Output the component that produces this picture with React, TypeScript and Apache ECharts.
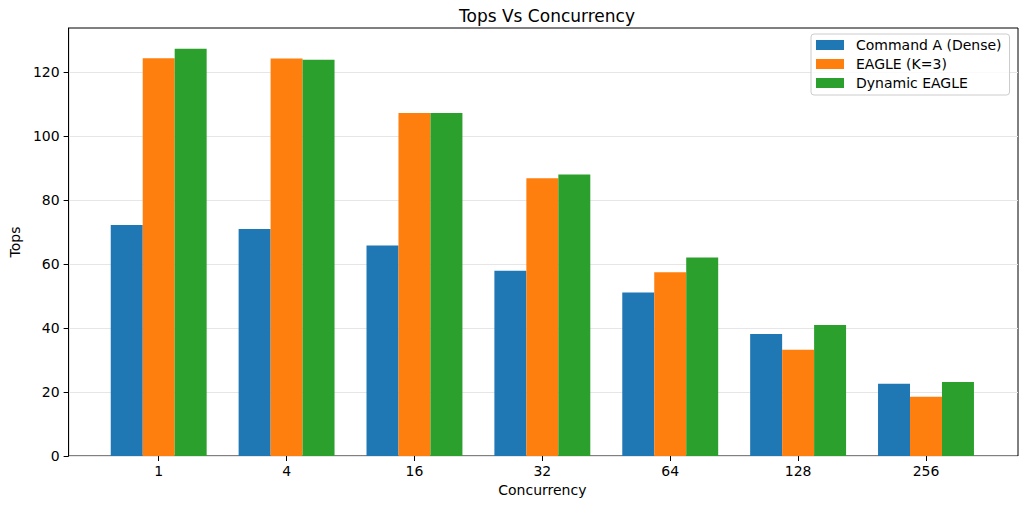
import React, { useEffect, useRef } from "react";
import * as echarts from "echarts";

// Concurrency levels on the x axis
const categories = ["1", "4", "16", "32", "64", "128", "256"];

// Throughput (Tops) per concurrency level
const denseValues = [72.2, 70.9, 65.8, 57.9, 51.1, 38.1, 22.6];
const eagleValues = [124.3, 124.2, 107.2, 86.8, 57.4, 33.2, 18.5];
const dynamicValues = [127.3, 123.8, 107.2, 88.0, 62.0, 40.9, 23.1];

const seriesNames = ["Command A (Dense)", "EAGLE (K=3)", "Dynamic EAGLE"];
const seriesColors = ["#1f77b4", "#ff7f0e", "#2ca02c"];

const yTicks = [0, 20, 40, 60, 80, 100, 120];
const yMax = 133.75;

const FONT = "DejaVu Sans, sans-serif";

export default function App() {
  const ref = useRef<HTMLDivElement>(null);

  useEffect(() => {
    if (!ref.current) return;
    const chart = echarts.init(ref.current, null, { renderer: "svg" });

    const seriesData = [denseValues, eagleValues, dynamicValues];

    chart.setOption({
      animation: false,
      backgroundColor: "#ffffff",
      textStyle: { fontFamily: FONT },
      title: {
        text: "Tops Vs Concurrency",
        left: 542,
        textAlign: "center",
        top: 2,
        textStyle: { fontFamily: FONT, fontSize: 17, fontWeight: "normal", color: "#000" },
      },
      legend: {
        orient: "vertical",
        left: 811,
        top: 34,
        padding: [4, 8, 5, 5],
        itemGap: 5,
        itemWidth: 28,
        itemHeight: 10,
        icon: "rect",
        backgroundColor: "rgba(255,255,255,0.8)",
        borderColor: "#cccccc",
        borderWidth: 1,
        borderRadius: 3,
        data: seriesNames,
        textStyle: { fontFamily: FONT, fontSize: 14, color: "#000", padding: [0, 0, 0, 7] },
      },
      grid: [
        // outer frame holding the value axis and gridlines
        {
          left: 67,
          right: 10,
          top: 28,
          bottom: 50,
          show: true,
          borderColor: "#000",
          borderWidth: 1,
          backgroundColor: "transparent",
        },
        // inner band area for the grouped bars
        { left: 94.76, right: 38.06, top: 28, bottom: 50 },
      ],
      xAxis: [
        { gridIndex: 0, type: "value", min: 0, max: 1, show: false },
        {
          gridIndex: 1,
          type: "category",
          data: categories,
          axisLine: { show: false },
          axisTick: {
            show: true,
            alignWithLabel: true,
            length: 5,
            lineStyle: { color: "#000", width: 1 },
          },
          axisLabel: { fontFamily: FONT, fontSize: 14, color: "#000", margin: 8 },
          name: "Concurrency",
          nameLocation: "middle",
          nameGap: 27,
          nameTextStyle: { fontFamily: FONT, fontSize: 14, color: "#000" },
        },
      ],
      yAxis: [
        {
          gridIndex: 0,
          type: "value",
          min: 0,
          max: yMax,
          interval: 20,
          axisLine: { show: true, lineStyle: { color: "#000", width: 1 } },
          axisTick: {
            show: true,
            length: 5,
            customValues: yTicks,
            lineStyle: { color: "#000", width: 1 },
          },
          axisLabel: {
            fontFamily: FONT,
            fontSize: 14,
            color: "#000",
            margin: 9,
            customValues: yTicks,
          },
          splitLine: { show: true, lineStyle: { color: "#e6e6e6", width: 1 } },
          name: "Tops",
          nameLocation: "middle",
          nameGap: 44,
          nameTextStyle: { fontFamily: FONT, fontSize: 14, color: "#000" },
        },
        { gridIndex: 1, type: "value", min: 0, max: yMax, show: false },
      ],
      series: seriesNames.map((name, i) => ({
        name,
        type: "bar",
        xAxisIndex: 1,
        yAxisIndex: 1,
        data: seriesData[i],
        barGap: "0%",
        barCategoryGap: "25%",
        itemStyle: { color: seriesColors[i] },
      })),
    });

    return () => chart.dispose();
  }, []);

  return (
    <div
      ref={ref}
      style={{ position: "fixed", left: 0, top: 0, width: 1028, height: 506 }}
    />
  );
}
